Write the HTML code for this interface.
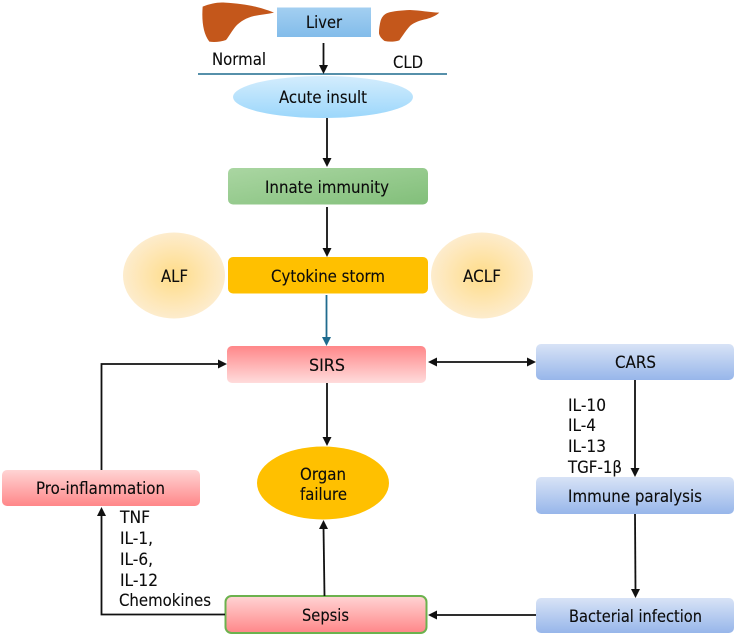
<!DOCTYPE html>
<html>
<head>
<meta charset="utf-8">
<style>
html,body{margin:0;padding:0;background:#fff;width:736px;height:634px;overflow:hidden}
svg{display:block}
text{font-family:"DejaVu Sans","Liberation Sans",sans-serif;font-size:17px;fill:#0c0c0c;stroke:#0c0c0c;stroke-width:.12px}
</style>
</head>
<body>
<svg xmlns="http://www.w3.org/2000/svg" width="736" height="634" viewBox="0 0 736 634">
<defs>
<linearGradient id="liver" x1="0" y1="0" x2="0" y2="1"><stop offset="0" stop-color="#a3cff1"/><stop offset="1" stop-color="#82bcea"/></linearGradient>
<linearGradient id="acute" x1="0" y1="0" x2="0" y2="1"><stop offset="0" stop-color="#d4edfd"/><stop offset="1" stop-color="#9cd7fb"/></linearGradient>
<linearGradient id="green" x1="0" y1="0" x2="1" y2="1"><stop offset="0" stop-color="#aad6a2"/><stop offset="1" stop-color="#82bf7a"/></linearGradient>
<linearGradient id="redDown" x1="0" y1="0" x2="0" y2="1"><stop offset="0" stop-color="#ff8789"/><stop offset="1" stop-color="#ffdcdc"/></linearGradient>
<linearGradient id="redUp" x1="0" y1="0" x2="0" y2="1"><stop offset="0" stop-color="#ffd4d4"/><stop offset="1" stop-color="#ff8789"/></linearGradient>
<linearGradient id="blue" x1="0" y1="0" x2="0" y2="1"><stop offset="0" stop-color="#d8e3f6"/><stop offset="1" stop-color="#97b6ea"/></linearGradient>
<radialGradient id="glow"><stop offset="0" stop-color="#ffdc88"/><stop offset="1" stop-color="#fdeccd"/></radialGradient>
</defs>

<!-- livers -->
<g transform="translate(190,0) scale(0.3333)" fill="#c4571b">
<path d="M38,20 C60,11 85,6 105,8 C140,10 175,15 200,21 C220,26 238,32 252,38 C232,43 212,44 192,48 C168,54 152,64 138,78 C126,92 118,108 108,120 C92,126 72,127 58,125 C50,114 45,102 42,90 C37,70 36,45 38,20Z"/>
<path d="M572,62 C575,52 582,43 592,39 C610,33 635,31 660,30 C690,31 720,37 748,38 C738,47 725,53 710,57 C690,61 674,67 662,76 C650,88 640,104 628,121 C612,126 598,126 584,123 C575,117 569,109 567,100 C567,86 569,74 572,62Z"/>
</g>

<!-- top line -->
<line x1="198" y1="74" x2="447" y2="74" stroke="#1f6b8e" stroke-width="1.6"/>

<!-- shapes -->
<rect x="277" y="7.5" width="94" height="29.5" fill="url(#liver)"/>
<ellipse cx="323" cy="97" rx="90" ry="21" fill="url(#acute)"/>
<rect x="228" y="168" width="200" height="36.5" rx="5" fill="url(#green)"/>
<rect x="228" y="257" width="200" height="36.5" rx="5" fill="#ffc000"/>
<ellipse cx="174" cy="275.5" rx="51" ry="43" fill="url(#glow)"/>
<ellipse cx="482" cy="275.5" rx="51" ry="43" fill="url(#glow)"/>
<rect x="227" y="346" width="199" height="37" rx="5" fill="url(#redDown)"/>
<rect x="536" y="344" width="198" height="36" rx="5" fill="url(#blue)"/>
<rect x="536" y="477" width="198" height="37" rx="5" fill="url(#blue)"/>
<rect x="536" y="598" width="198" height="35" rx="5" fill="url(#blue)"/>
<rect x="2" y="470" width="198" height="36" rx="5" fill="url(#redUp)"/>
<ellipse cx="323" cy="483" rx="66" ry="36.5" fill="#ffc000"/>
<rect x="225.5" y="596" width="201" height="37" rx="6" fill="url(#redUp)" stroke="#6cb24e" stroke-width="2"/>

<!-- connectors -->
<g fill="none" stroke="#111" stroke-width="1.8">
<line x1="323.5" y1="43" x2="323.5" y2="68"/>
<line x1="327" y1="118" x2="327" y2="160"/>
<line x1="327" y1="207" x2="327" y2="250"/>
<line x1="327" y1="383" x2="327" y2="439"/>
<line x1="434" y1="362" x2="530" y2="362"/>
<polyline points="101.5,470 101.5,364 221,364"/>
<polyline points="225,614.5 101.5,614.5 101.5,514"/>
<line x1="324.5" y1="596" x2="323.5" y2="527"/>
<line x1="635" y1="380" x2="635" y2="470"/>
<line x1="635" y1="514" x2="635.5" y2="591"/>
<line x1="536" y1="615" x2="434" y2="615"/>
</g>
<line x1="326.5" y1="295" x2="326.5" y2="339" stroke="#1f6b8e" stroke-width="1.8"/>

<!-- arrowheads -->
<g fill="#111">
<polygon points="319,65 328,65 323.5,74"/>
<polygon points="322.5,158 331.5,158 327,167"/>
<polygon points="322.5,248 331.5,248 327,257"/>
<polygon points="322.5,437 331.5,437 327,446"/>
<polygon points="428,362 437,357.5 437,366.5"/>
<polygon points="536,362 527,357.5 527,366.5"/>
<polygon points="227,364 218,359.5 218,368.5"/>
<polygon points="101.5,507 97,516 106,516"/>
<polygon points="323.5,520 319,529 328,529"/>
<polygon points="630.5,468 639.5,468 635,477"/>
<polygon points="631,589 640,589 635.5,598"/>
<polygon points="428,615 437,610.5 437,619.5"/>
</g>
<polygon points="322,337 331,337 326.5,346" fill="#1f6b8e"/>

<!-- labels -->
<text x="306" y="28" textLength="36" lengthAdjust="spacingAndGlyphs">Liver</text>
<text x="212" y="65" textLength="54" lengthAdjust="spacingAndGlyphs">Normal</text>
<text x="393" y="68" textLength="30" lengthAdjust="spacingAndGlyphs">CLD</text>
<text x="279" y="103" textLength="88" lengthAdjust="spacingAndGlyphs">Acute insult</text>
<text x="265" y="193" textLength="124" lengthAdjust="spacingAndGlyphs">Innate immunity</text>
<text x="271" y="282" textLength="114" lengthAdjust="spacingAndGlyphs">Cytokine storm</text>
<text x="161" y="282" textLength="27" lengthAdjust="spacingAndGlyphs">ALF</text>
<text x="463" y="282" textLength="38" lengthAdjust="spacingAndGlyphs">ACLF</text>
<text x="309" y="371" textLength="36" lengthAdjust="spacingAndGlyphs">SIRS</text>
<text x="615" y="368" textLength="41" lengthAdjust="spacingAndGlyphs">CARS</text>
<text x="568" y="411" textLength="38" lengthAdjust="spacingAndGlyphs">IL-10</text>
<text x="568" y="431" textLength="28" lengthAdjust="spacingAndGlyphs">IL-4</text>
<text x="568" y="452" textLength="38" lengthAdjust="spacingAndGlyphs">IL-13</text>
<text x="568" y="473" textLength="54" lengthAdjust="spacingAndGlyphs">TGF-1β</text>
<text x="568" y="502" textLength="134" lengthAdjust="spacingAndGlyphs">Immune paralysis</text>
<text x="569" y="622" textLength="133" lengthAdjust="spacingAndGlyphs">Bacterial infection</text>
<text x="36" y="494" textLength="129" lengthAdjust="spacingAndGlyphs">Pro-inflammation</text>
<text x="120" y="523" textLength="30" lengthAdjust="spacingAndGlyphs">TNF</text>
<text x="120" y="544" textLength="33" lengthAdjust="spacingAndGlyphs">IL-1,</text>
<text x="120" y="565" textLength="33" lengthAdjust="spacingAndGlyphs">IL-6,</text>
<text x="120" y="586" textLength="38" lengthAdjust="spacingAndGlyphs">IL-12</text>
<text x="119" y="606" textLength="92" lengthAdjust="spacingAndGlyphs">Chemokines</text>
<text x="300" y="480" textLength="46" lengthAdjust="spacingAndGlyphs">Organ</text>
<text x="300" y="500" textLength="47" lengthAdjust="spacingAndGlyphs">failure</text>
<text x="302" y="621" textLength="47" lengthAdjust="spacingAndGlyphs">Sepsis</text>
</svg>
</body>
</html>
